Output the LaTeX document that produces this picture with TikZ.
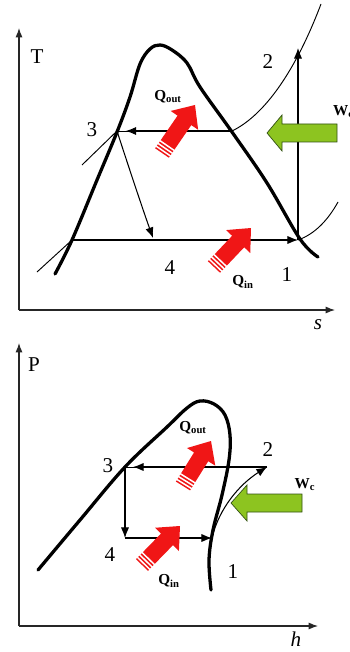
\documentclass[tikz,border=0pt]{standalone}
\usepackage{fontspec}
\setmainfont{Liberation Serif}
\usetikzlibrary{arrows.meta, calc}
\definecolor{qred}{RGB}{240,22,22}
\definecolor{wgreen}{RGB}{141,196,32}
\definecolor{wdark}{RGB}{50,80,20}

% red heat arrow: tail, tip
\newcommand{\heatarrow}[2]{%
  \coordinate (hb) at ($(#2)!5.6mm!(#1)$);
  \fill[qred] ($(#1)!2.5mm!90:(#2)$) -- ($(hb)!2.5mm!90:(#2)$) -- ($(hb)!5mm!90:(#2)$)
    -- (#2) -- ($(hb)!5mm!-90:(#2)$) -- ($(hb)!2.5mm!-90:(#2)$) -- ($(#1)!2.5mm!-90:(#2)$) -- cycle;
  \foreach \d in {0.7mm,1.7mm,2.7mm}{
    \coordinate (hs) at ($(#1)!\d!(#2)$);
    \draw[white,line width=0.45mm] ($(hs)!2.8mm!90:(#2)$) -- ($(hs)!2.8mm!-90:(#2)$);
  }
}

\begin{document}
\begin{tikzpicture}[
  x=0.3mm, y=-0.3mm,
  axis/.style={-{Latex[length=8pt,width=6pt]},line width=0.9pt,black!85},
  dome/.style={line width=2.8pt,line join=round,line cap=round},
  iso/.style={line width=0.8pt},
  arr/.style={-{Latex[length=9pt,width=7pt]},line width=0.9pt},
  lbl/.style={font=\fontsize{18}{20}\selectfont,inner sep=0pt},
  qlbl/.style={font=\fontsize{13}{15}\selectfont\bfseries,inner sep=0pt},
  work/.style={fill=wgreen,draw=wdark,line width=0.6pt}
]
\useasboundingbox (0,0) rectangle (349,652);

% ── T-s diagram ─────────────────────────────────────────
\coordinate (tO)  at (19,310);
\coordinate (tT)  at (19,28);
\coordinate (tS)  at (335,310);
\draw[axis] (tO) -- (tT);
\draw[axis] (tO) -- (tS);
\node[lbl] (Tlab) at (37,57) {T};
\node[lbl] (slab) at (318,325) {\textit{s}};

\draw[dome] plot[smooth,tension=0.6] coordinates {(55,274) (72,240) (97,180) (117,132)
  (130,97) (140,64) (150,49) (160,45) (172,50) (187,63) (200,87) (232,132) (267,183)
  (300,239) (318,257)};

\coordinate (t3) at (117,131);
\coordinate (tA) at (232,131);
\coordinate (tB) at (72,240);
\coordinate (t1) at (298,240);
\coordinate (t2) at (298,48);
\coordinate (t4) at (153,238);
\coordinate (tH) at (321,4);
\coordinate (tL) at (338,202);
\coordinate (tC) at (82,165);
\coordinate (tD) at (37,272);

\draw[iso] (tA) .. controls (265,115) and (296,70) .. (tH);
\draw[iso] (t1) .. controls (315,234) and (328,220) .. (tL);
\draw[iso] (tC) -- (t3);
\draw[iso] (tD) -- (tB);
\draw[iso] (tA) -- (t3);
\draw[arr,shorten >=2.6mm] (tA) -- (t3);
\draw[arr] (tB) -- (t1);
\draw[arr] (t1) -- (t2);
\draw[arr] (t3) .. controls (128,165) and (143,210) .. (t4);

\node[lbl] (l2) at (268,62)  {2};
\node[lbl] (l3) at (92,130)  {3};
\node[lbl] (l4) at (170,268) {4};
\node[lbl] (l1) at (287,275) {1};
\node[qlbl] (qo) at (168,97)  {Q\textsubscript{out}};
\node[qlbl] (qi) at (243,282) {Q\textsubscript{in}};
\node[qlbl,anchor=west] (wc) at (333,112) {W\textsubscript{c}};

\heatarrow{162,153}{195,105}
\heatarrow{214,267}{251,228}
\draw[work] (267,133) -- (282,115) -- (282,124) -- (337,124) -- (337,142)
  -- (282,142) -- (282,151) -- cycle;

% ── P-h diagram ─────────────────────────────────────────
\coordinate (pO) at (19,626);
\coordinate (pP) at (19,343);
\coordinate (pH) at (318,626);
\draw[axis] (pO) -- (pP);
\draw[axis] (pO) -- (pH);
\node[lbl] (Plab) at (34,365) {P};
\node[lbl] (hlab) at (296,639) {\textit{h}};

\draw[dome] plot[smooth,tension=0.6] coordinates {(38,570) (80,520) (125,467) (167,427)
  (187,408) (200,401) (214,404) (225,415) (230,435) (229,460) (222,495) (213,530)
  (209,560) (211,590)};

\coordinate (b3) at (125,467);
\coordinate (b2) at (267,467);
\coordinate (b4) at (125,538);
\coordinate (b1) at (212,538);

\draw[iso] (b2) -- (b3);
\draw[arr,shorten >=2.4mm] (b2) -- (b3);
\draw[arr] (b3) -- (b4);
\draw[arr] (b4) -- (b1);
\draw[arr] (b1) .. controls (219,508) and (240,484) .. (b2);

\node[lbl] (m3) at (108,466) {3};
\node[lbl] (m2) at (268,450) {2};
\node[lbl] (m4) at (110,555) {4};
\node[lbl] (m1) at (233,572) {1};
\node[qlbl] (po) at (193,428) {Q\textsubscript{out}};
\node[qlbl] (pi) at (169,581) {Q\textsubscript{in}};
\node[qlbl] (pw) at (305,485) {W\textsubscript{c}};

\heatarrow{183,486}{211,441}
\heatarrow{142,565}{180,526}
\draw[work] (231,503) -- (247,485) -- (247,494) -- (302,494) -- (302,512)
  -- (247,512) -- (247,521) -- cycle;
\end{tikzpicture}
\end{document}
